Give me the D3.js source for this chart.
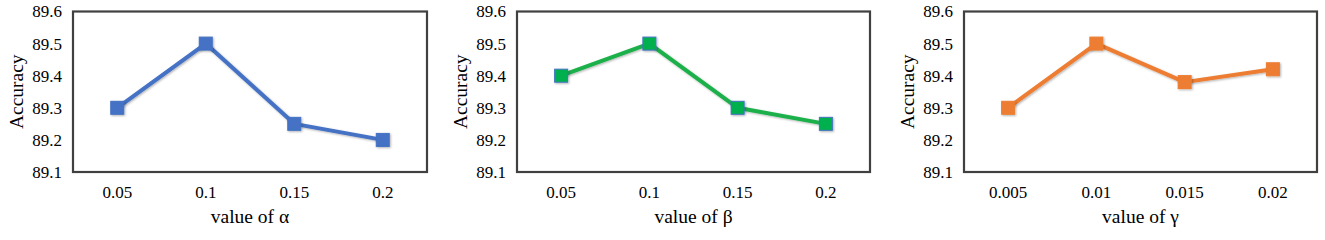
<!DOCTYPE html>
<html>
<head>
<meta charset="utf-8">
<script src="https://cdn.jsdelivr.net/npm/d3@7"></script>
<style>
  body { margin: 0; background: #fff; }
  svg { display: block; }
  svg text { font-family: "Liberation Serif", "Times New Roman", Tinos, "DejaVu Serif", serif; }
</style>
</head>
<body>
<svg id="chart" width="1325" height="240"></svg>
<script>
// data
const alphaValues = ["0.05", "0.1", "0.15", "0.2"];
const alphaAcc = [89.3, 89.5, 89.25, 89.2];
const betaValues = ["0.05", "0.1", "0.15", "0.2"];
const betaAcc = [89.4, 89.5, 89.3, 89.25];
const gammaValues = ["0.005", "0.01", "0.015", "0.02"];
const gammaAcc = [89.3, 89.5, 89.38, 89.42];
const yTicks = [89.1, 89.2, 89.3, 89.4, 89.5, 89.6];

const panels = [
    { cats: alphaValues, vals: alphaAcc, label: "value of α", left: 73, right: 427, line: "#4472C4", fill: "#4472C4", edge: "#4472C4" },
    { cats: betaValues, vals: betaAcc, label: "value of β", left: 517, right: 870, line: "#1DB04B", fill: "#00B050", edge: "#4472C4" },
    { cats: gammaValues, vals: gammaAcc, label: "value of γ", left: 964, right: 1317, line: "#ED7D31", fill: "#ED7D31", edge: "#ED7D31" }
];
const plotTop = 11.5, plotBottom = 172;

const svg = d3.select("#chart");

const defs = svg.append("defs");
defs.append("filter").attr("id", "shadow")
    .attr("x", "-30%").attr("y", "-30%").attr("width", "160%").attr("height", "160%")
  .append("feDropShadow")
    .attr("dx", 1).attr("dy", 1).attr("stdDeviation", 1)
    .attr("flood-color", "#000").attr("flood-opacity", 0.3);

panels.forEach(p => {
    const g = svg.append("g");

    const x = d3.scalePoint().domain(p.cats).range([p.left, p.right]).padding(0.5);
    const y = d3.scaleLinear().domain([89.1, 89.6]).range([plotBottom, plotTop]);

    // y tick labels
    g.selectAll(".ytick")
        .data(yTicks)
        .join("text")
        .attr("x", p.left - 11)
        .attr("y", d => y(d))
        .attr("dy", "0.35em")
        .attr("text-anchor", "end")
        .style("font-size", "17px")
        .attr("fill", "#000")
        .text(d => d.toFixed(1));

    // x tick labels
    g.selectAll(".xtick")
        .data(p.cats)
        .join("text")
        .attr("x", d => x(d))
        .attr("y", 198)
        .attr("text-anchor", "middle")
        .style("font-size", "17px")
        .attr("fill", "#000")
        .text(d => d);

    // axis titles
    g.append("text")
        .attr("transform", `translate(${p.left - 50}, ${(plotTop + plotBottom) / 2}) rotate(-90)`)
        .attr("text-anchor", "middle")
        .style("font-size", "19.5px")
        .text("Accuracy");
    g.append("text")
        .attr("x", (p.left + p.right) / 2)
        .attr("y", 223)
        .attr("text-anchor", "middle")
        .style("font-size", "19.5px")
        .text(p.label);

    // the series
    const pts = p.cats.map((c, i) => [x(c), y(p.vals[i])]);
    g.append("path")
        .attr("d", d3.line()(pts))
        .attr("fill", "none")
        .attr("stroke", p.line)
        .attr("stroke-width", 4)
        .attr("stroke-linejoin", "round")
        .attr("filter", "url(#shadow)");

    const ms = 13;
    g.selectAll(".mark")
        .data(pts)
        .join("rect")
        .attr("x", d => d[0] - ms / 2)
        .attr("y", d => d[1] - ms / 2)
        .attr("width", ms)
        .attr("height", ms)
        .attr("fill", p.fill)
        .attr("stroke", p.edge)
        .attr("stroke-width", 1)
        .attr("filter", "url(#shadow)");

    // frame
    g.append("rect")
        .attr("x", p.left)
        .attr("y", plotTop)
        .attr("width", p.right - p.left)
        .attr("height", plotBottom - plotTop)
        .attr("fill", "none")
        .attr("stroke", "#404040")
        .attr("stroke-width", 2.2);
});
</script>
</body>
</html>
